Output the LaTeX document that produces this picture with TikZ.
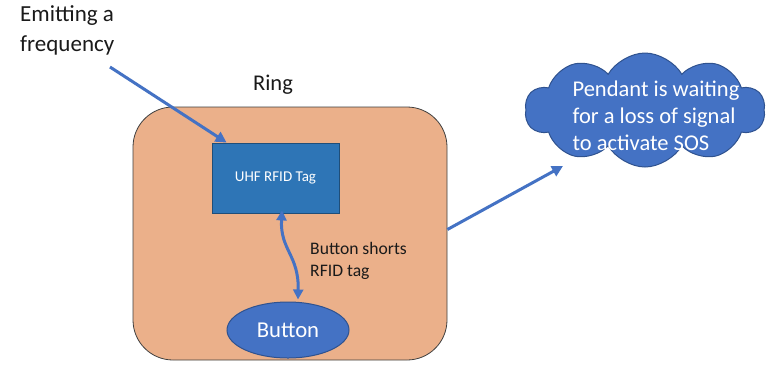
\documentclass[tikz,border=0pt]{standalone}
\usepackage{fontspec}
\setmainfont{Carlito}
\usetikzlibrary{arrows.meta,shapes.symbols,shapes.geometric,calc}
\definecolor{peach}{HTML}{EBB08A}
\definecolor{tagblue}{HTML}{2E75B6}
\definecolor{tagedge}{HTML}{1F4E79}
\definecolor{accblue}{HTML}{4472C4}
\definecolor{accedge}{HTML}{2F528F}
\definecolor{txt}{HTML}{1A1A1A}
\begin{document}
\begin{tikzpicture}[x=1pt,y=-1pt,
  lbl/.style={inner sep=0pt,text=txt,align=left},
  conn/.style={draw=accblue,line width=3pt,-{Triangle[length=11pt,width=11pt]}},
  dconn/.style={draw=accblue,line width=3pt,{Triangle[length=10pt,width=10pt]}-{Triangle[length=10pt,width=10pt]}}]
\useasboundingbox (0,0) rectangle (771,368);
\fill[white] (0,0) rectangle (771,368);
% ring
\node[draw=black!75,line width=0.8pt,fill=peach,rounded corners=40pt,minimum width=314pt,minimum height=253pt,inner sep=0pt] (ring) at (290,233.5) {};
\node[lbl,font=\fontsize{22.5}{27}\selectfont] (ringlbl) at (273,85) {Ring};
% tag
\node[draw=tagedge,line width=0.8pt,fill=tagblue,minimum width=127pt,minimum height=70pt,inner sep=0pt,text=white,font=\fontsize{15}{18}\selectfont] (tag) at (275.5,178) {UHF RFID Tag};
% button
\node[ellipse,draw=accedge,line width=1pt,fill=accblue,minimum width=122pt,minimum height=56pt,inner sep=0pt,text=white,font=\fontsize{22.7}{26}\selectfont] (btn) at (288,330) {Button};
% emitting label
\node[lbl,anchor=west,font=\fontsize{23}{30}\selectfont] (emit) at (20,30) {Emitting a\\frequency};
\coordinate (emitstart) at (110,67);
\draw[conn] (emitstart) -- ([xshift=15pt]tag.north west);
% double arrow
\draw[dconn] ([xshift=6.5pt,yshift=3pt]tag.south) .. controls (280,250) and (299,255) .. ([xshift=10pt,yshift=2pt]btn.north);
\node[lbl,anchor=west,font=\fontsize{17.6}{22}\selectfont] (shorts) at (310,261) {Button shorts\\RFID tag};
% cloud
\node[cloud,cloud puffs=10,cloud puff arc=120,aspect=2.2,draw=accedge,line width=1pt,fill=accblue,minimum width=240pt,minimum height=114pt,inner sep=0pt] (cloud) at (645,110) {};
\node[lbl,text=white,font=\fontsize{22.5}{27}\selectfont] (cloudtxt) at (656,116) {Pendant is waiting\\for a loss of signal\\to activate SOS};
\draw[conn] ([yshift=4pt]ring.east) -- ($(cloud.center)+(-82,56)$);
\end{tikzpicture}
\end{document}
